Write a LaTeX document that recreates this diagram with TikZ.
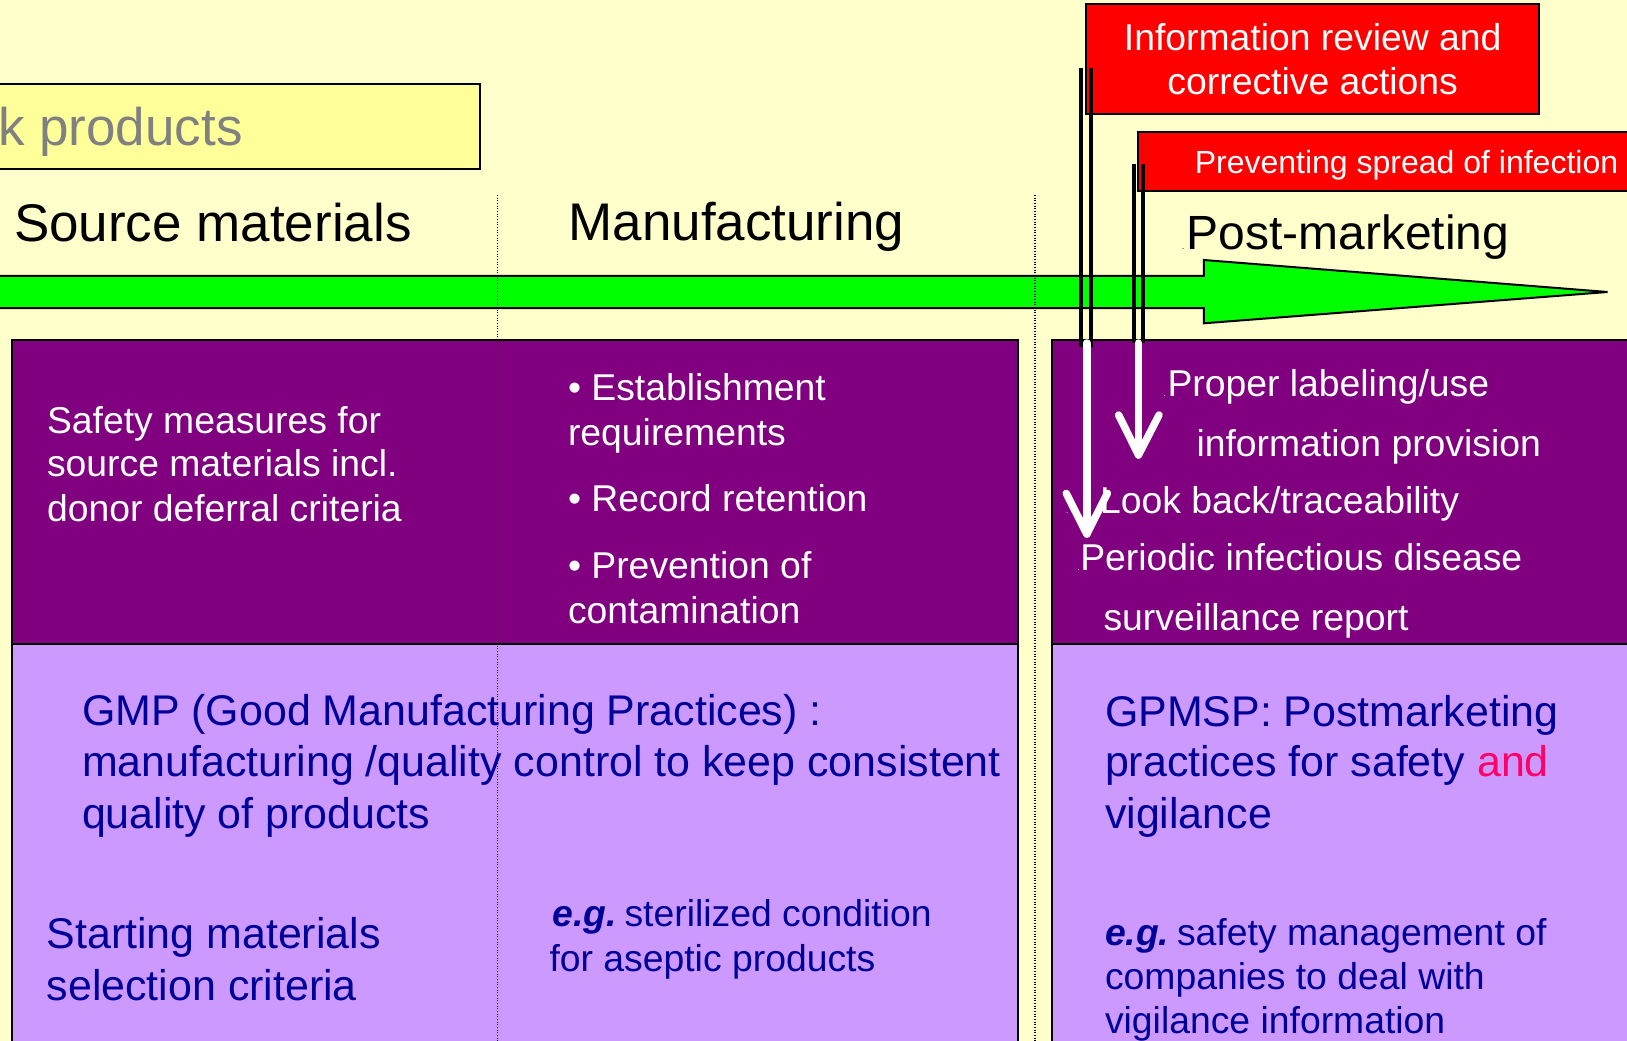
\documentclass[tikz,border=0pt]{standalone}
\usepackage{fontspec}
\setmainfont{Liberation Sans}
\definecolor{bgcream}{HTML}{FFFFCC}
\definecolor{paleyellow}{HTML}{FFFF99}
\definecolor{deeppurple}{HTML}{800080}
\definecolor{lilac}{HTML}{CC99FF}
\definecolor{navytext}{HTML}{000099}
\definecolor{flagred}{HTML}{FF0000}
\definecolor{limegreen}{HTML}{00FF00}
\definecolor{pinkand}{HTML}{FF0066}
\definecolor{greytext}{HTML}{808080}
\newcommand\egword{{\bfseries\itshape e.g.}\hspace{5.8pt}}
\begin{document}
\begin{tikzpicture}[x=0.75pt,y=-0.75pt,
  txt/.style={anchor=base west,inner sep=0pt,outer sep=0pt},
  headtxt/.style={txt,font=\fontsize{39.75pt}{40pt}\selectfont},
  posttxt/.style={txt,font=\fontsize{36pt}{36pt}\selectfont},
  flagtxt/.style={anchor=base,inner sep=0pt,text=white,font=\fontsize{28pt}{28pt}\selectfont},
  flagsmall/.style={txt,text=white,font=\fontsize{24pt}{24pt}\selectfont},
  wtxt/.style={txt,text=white,font=\fontsize{28pt}{28pt}\selectfont},
  bigblue/.style={txt,text=navytext,font=\fontsize{32.2pt}{33pt}\selectfont},
  smallblue/.style={txt,text=navytext,font=\fontsize{28pt}{28pt}\selectfont},
  tinydot/.style={txt,font=\fontsize{6pt}{6pt}\selectfont},
  panel/.style={draw=black,line width=1.5pt},
  pole/.style={draw=black,line width=3pt},
  whitearrow/.style={draw=white,line width=5.6pt,line cap=round,line join=round},
  stagesep/.style={draw=black,line width=0.8pt,dash pattern=on 0.8pt off 1.2pt}]

\useasboundingbox (0,0) rectangle (1627,1041);
\clip (0,0) rectangle (1627,1041);

% background
\fill[bgcream] (0,0) rectangle (1627,1041);

% title banner (cut at the left edge)
\draw[panel,fill=paleyellow] (-20,84) rectangle (480,169);
\node[headtxt,text=greytext] (kprod) at (-1.8,146) {k products};

% stage headings
\node[headtxt] (srcmat) at (14,241.7) {Source materials};
\node[headtxt] (manuf) at (568.5,240.7) {Manufacturing};
\node[tinydot] (pmdot) at (1182,250) {.};
\node[posttxt] (postm) at (1186.5,250) {Post-marketing};

% time-line arrow
\draw[fill=limegreen,draw=black,line width=1.5pt]
  (-20,276) -- (1203.8,276) -- (1203.8,260) -- (1607.5,292)
  -- (1203.8,323.3) -- (1203.8,308) -- (-20,308) -- cycle;

% panels
\draw[panel,fill=deeppurple] (11.8,340) rectangle (1017.6,644);
\draw[panel,fill=lilac] (11.8,644) rectangle (1017.6,1060);
\draw[panel,fill=deeppurple] (1052,340) rectangle (1650,644);
\draw[panel,fill=lilac] (1052,644) rectangle (1650,1060);

% flags
\draw[panel,fill=flagred] (1086,4) rectangle (1539.4,114);
\draw[panel,fill=flagred] (1138.3,131.7) rectangle (1650,191);
\node[flagtxt] (info1) at (1312.7,50.7) {Information review and};
\node[flagtxt] (info2) at (1312.7,94.3) {corrective actions};
\node[flagsmall] (prev) at (1194.8,173.3) {Preventing spread of infection};

% flag poles
\coordinate (poleAtop1) at (1081.3,68);
\coordinate (poleAbot1) at (1081.3,347);
\coordinate (poleAtop2) at (1091.2,68);
\coordinate (poleAbot2) at (1091.2,347);
\coordinate (poleBtop1) at (1133.9,164);
\coordinate (poleBbot1) at (1133.9,343);
\coordinate (poleBtop2) at (1143.1,164);
\coordinate (poleBbot2) at (1143.1,343);
\draw[pole] (poleAtop1) -- (poleAbot1);
\draw[pole] (poleAtop2) -- (poleAbot2);
\draw[pole] (poleBtop1) -- (poleBbot1);
\draw[pole] (poleBtop2) -- (poleBbot2);

% source materials panel
\node[wtxt] (sm1) at (47,433.3) {Safety measures for};
\node[wtxt] (sm2) at (47,476.7) {source materials incl.};
\node[wtxt] (sm3) at (47,521.7) {donor deferral criteria};

% manufacturing panel
\node[wtxt] (mf1) at (568,400.7) {• Establishment};
\node[wtxt] (mf2) at (568,445) {requirements};
\node[wtxt] (mf3) at (568,511.7) {• Record retention};
\node[wtxt] (mf4) at (568,578.3) {• Prevention of};
\node[wtxt] (mf5) at (568,623.3) {contamination};

% post-marketing panel
\node[tinydot,text=white] (pdot1) at (1163.5,396.7) {.};
\node[wtxt] (pm1) at (1167.5,396.7) {Proper labeling/use};
\node[wtxt] (pm2) at (1196.5,456.7) {information provision};
\node[tinydot,text=white] (pdot2) at (1066,513.3) {.};
\node[wtxt] (pm3) at (1100,513.3) {Look back/traceability};
\node[tinydot,text=white] (pdot3) at (1077.4,570) {.};
\node[wtxt] (pm4) at (1080.3,570) {Periodic infectious disease};
\node[wtxt] (pm5) at (1103.5,630) {surveillance report};

% practice panels
\node[bigblue] (gmp1) at (82,725) {GMP (Good Manufacturing Practices) :};
\node[bigblue] (gmp2) at (82,776.7) {manufacturing /quality control to keep consistent};
\node[bigblue] (gmp3) at (82,828.3) {quality of products};
\node[bigblue] (st1) at (46.7,948.3) {Starting materials};
\node[bigblue] (st2) at (46.7,1000) {selection criteria};
\node[smallblue] (eg1) at (552.5,926.7) {\egword sterilized condition};
\node[smallblue] (eg2) at (549.5,971.7) {for aseptic products};
\node[bigblue] (gp1) at (1105,726.7) {GPMSP: Postmarketing};
\node[bigblue] (gp2) at (1105,776.7) {practices for safety \textcolor{pinkand}{and}};
\node[bigblue] (gp3) at (1105,828.3) {vigilance};
\node[smallblue] (eg3) at (1105,945) {\egword safety management of};
\node[smallblue] (eg4) at (1105,989.3) {companies to deal with};
\node[smallblue] (eg5) at (1105,1033.3) {vigilance information};

% white arrows below the poles
\coordinate (arrAstart) at (1086.8,343);
\coordinate (arrAtip) at (1086.8,534);
\coordinate (arrAl) at (1066.2,493.3);
\coordinate (arrAr) at (1107.4,493.3);
\coordinate (arrBstart) at (1138.5,343);
\coordinate (arrBtip) at (1138.5,455);
\coordinate (arrBl) at (1118.6,415);
\coordinate (arrBr) at (1159,415);
\draw[whitearrow] (arrAstart) -- (arrAtip);
\draw[whitearrow] (arrAl) -- (arrAtip) -- (arrAr);
\draw[whitearrow] (arrBstart) -- (arrBtip);
\draw[whitearrow] (arrBl) -- (arrBtip) -- (arrBr);

% stage separators
\coordinate (sepAtop) at (497.6,195);
\coordinate (sepAbot) at (497.6,1045);
\coordinate (sepBtop) at (1035,195);
\coordinate (sepBbot) at (1035,1045);
\draw[stagesep] (sepAtop) -- (sepAbot);
\draw[stagesep] (sepBtop) -- (sepBbot);
\end{tikzpicture}
\end{document}
